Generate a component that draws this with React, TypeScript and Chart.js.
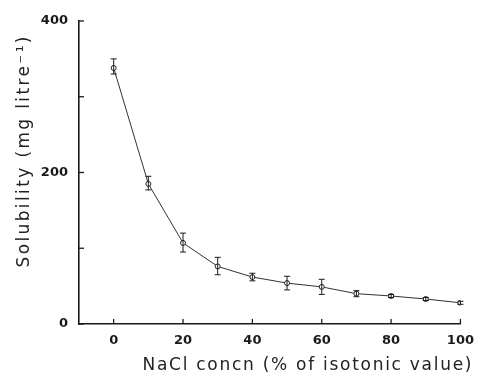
import React, { useEffect, useRef } from "react";
import { Chart, registerables } from "chart.js";

Chart.register(...registerables);

const nacl = [0, 10, 20, 30, 40, 50, 60, 70, 80, 90, 100];
const solubility = [338, 185, 107, 76, 62, 54, 49, 40, 37, 33, 28];
const errUp = [12, 10, 13, 12, 5, 9, 10, 4, 2, 2, 2];
const errDown = [8, 8, 12, 11, 5, 9, 10, 4, 2, 2, 2];
const yTicks = [0, 100, 200, 300, 400];
const yLabelled = [0, 200, 400];
const xTicks = [0, 20, 40, 60, 80, 100];
const xTitle = "NaCl concn (% of isotonic value)";
const yTitle = "Solubility (mg litre\u207B\u00B9)";

const INK = "#1a1a1a";

function fittedText(ctx: any, text: string, cx: number, cy: number, width: number, rot: number) {
  ctx.save();
  ctx.font = "17px 'DejaVu Sans'";
  ctx.letterSpacing = "0px";
  const w = ctx.measureText(text).width;
  const sp = (width - w) / (text.length - 1);
  ctx.letterSpacing = sp + "px";
  ctx.translate(cx, cy);
  ctx.rotate(rot);
  ctx.fillStyle = "#222";
  ctx.textAlign = "left";
  ctx.textBaseline = "middle";
  ctx.fillText(text, -width / 2, 0);
  ctx.restore();
}

const decor = {
  id: "decor",
  afterDatasetsDraw(chart: any) {
    const { ctx, scales } = chart;
    const xs = scales.x;
    const ys = scales.y;
    ctx.save();
    ctx.strokeStyle = INK;
    ctx.lineWidth = 1;
    nacl.forEach((x, i) => {
      const px = xs.getPixelForValue(x);
      const top = ys.getPixelForValue(solubility[i] + errUp[i]);
      const bot = ys.getPixelForValue(solubility[i] - errDown[i]);
      ctx.beginPath();
      ctx.moveTo(px, top);
      ctx.lineTo(px, bot);
      ctx.moveTo(px - 3, top);
      ctx.lineTo(px + 3, top);
      ctx.moveTo(px - 3, bot);
      ctx.lineTo(px + 3, bot);
      ctx.stroke();
    });
    ctx.lineWidth = 1.3;
    const left = chart.chartArea.left;
    const bottom = chart.chartArea.bottom;
    yTicks.forEach((v) => {
      const py = ys.getPixelForValue(v);
      ctx.beginPath();
      ctx.moveTo(left, py);
      ctx.lineTo(left + 5, py);
      ctx.stroke();
    });
    xTicks.forEach((v) => {
      const px = xs.getPixelForValue(v);
      ctx.beginPath();
      ctx.moveTo(px, bottom);
      ctx.lineTo(px, bottom - 5);
      ctx.stroke();
    });
    ctx.restore();
    fittedText(ctx, xTitle, 307, 366, 329, 0);
    fittedText(ctx, yTitle, 25, 152, 231, -Math.PI / 2);
  },
};

export default function App() {
  const ref = useRef<HTMLCanvasElement>(null);
  useEffect(() => {
    document.body.style.margin = "0";
    const chart = new Chart(ref.current!, {
      type: "line",
      data: {
        datasets: [
          {
            data: nacl.map((x, i) => ({ x, y: solubility[i] })),
            borderColor: "#333",
            borderWidth: 1,
            pointRadius: 2.5,
            pointBackgroundColor: "#fff",
            pointBorderColor: "#222",
            pointBorderWidth: 1,
            tension: 0,
          },
        ],
      },
      options: {
        animation: false,
        responsive: false,
        maintainAspectRatio: false,
        layout: { padding: { top: 21, right: 16, left: 0, bottom: 0 } },
        plugins: { legend: { display: false }, tooltip: { enabled: false } },
        scales: {
          x: {
            type: "linear",
            min: -10,
            max: 100,
            afterBuildTicks: (s: any) => {
              s.ticks = xTicks.map((v) => ({ value: v }));
            },
            afterFit: (s: any) => {
              s.height = 52;
            },
            grid: { display: false, drawTicks: false },
            border: { display: true, color: INK, width: 1.6 },
            ticks: {
              color: INK,
              padding: 9,
              font: { family: "DejaVu Sans", size: 13, weight: "bold" },
            },
          },
          y: {
            type: "linear",
            min: 0,
            max: 400,
            afterBuildTicks: (s: any) => {
              s.ticks = yTicks.map((v) => ({ value: v }));
            },
            afterFit: (s: any) => {
              s.width = 79;
            },
            grid: { display: false, drawTicks: false },
            border: { display: true, color: INK, width: 1.6 },
            ticks: {
              color: INK,
              padding: 11,
              font: { family: "DejaVu Sans", size: 13, weight: "bold" },
              callback: (v: any) => (yLabelled.includes(Number(v)) ? String(v) : ""),
            },
          },
        },
      },
      plugins: [decor],
    } as any);
    return () => chart.destroy();
  }, []);
  return (
    <div style={{ position: "absolute", left: 0, top: 0, width: 483, height: 376, background: "#fff" }}>
      <canvas ref={ref} width={483} height={376} style={{ width: 483, height: 376 }} />
    </div>
  );
}
